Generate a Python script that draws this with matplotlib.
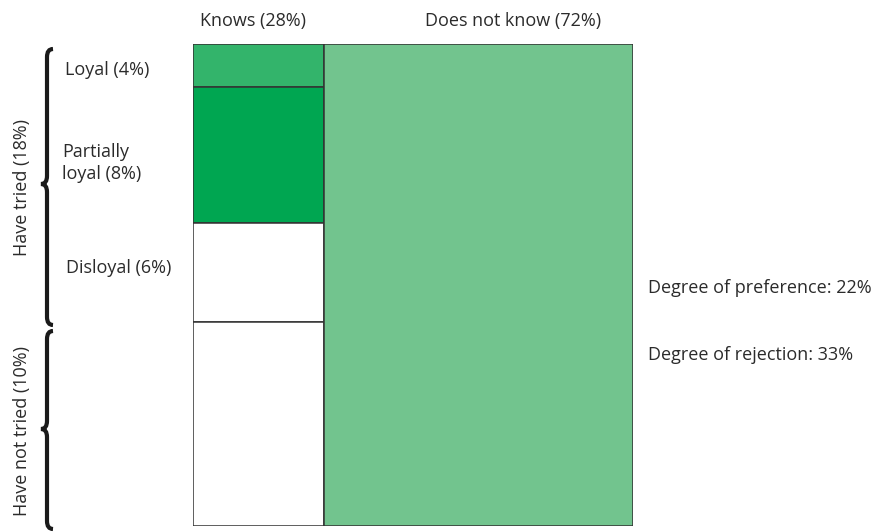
import matplotlib.pyplot as plt
from matplotlib.path import Path
from matplotlib.patches import PathPatch

plt.rcParams['font.family'] = ['Open Sans', 'DejaVu Sans']

# columns: who knows the brand
col_labels = ['Knows (28%)', 'Does not know (72%)']
col_widths = [29.8, 70.2]          # visual width share

# segments inside the "Knows" column (top to bottom)
seg_labels = ['Loyal (4%)', 'Partially\nloyal (8%)', 'Disloyal (6%)', '']
seg_heights = [8.9, 28.2, 20.5, 42.4]   # visual height share
seg_colors = ['#33b46b', '#00a651', 'white', 'white']

group_labels = ['Have tried (18%)', 'Have not tried (10%)']
side_notes = ['Degree of preference: 22%', 'Degree of rejection: 33%']

other_color = '#72c48e'
txt = '#2b2b2b'

fig = plt.figure(figsize=(8.82, 5.32), dpi=100)
ax = fig.add_axes([193/882, 1-526/532, 440/882, 482/532])

w0 = col_widths[0] / sum(col_widths)
bottom = 0
for h, c in zip(seg_heights, seg_colors):
    ax.bar(0, h, width=w0, bottom=bottom, align='edge', color=c,
           edgecolor='#333333', linewidth=1.1)
    bottom += h
ax.bar(w0, sum(seg_heights), width=1-w0, bottom=0, align='edge',
       color=other_color, edgecolor='#333333', linewidth=1.1)
ax.set_xlim(0, 1)
ax.set_ylim(sum(seg_heights), 0)
ax.axis('off')

# overlay in pixel units for labels and braces
ov = fig.add_axes([0, 0, 1, 1], zorder=-1)
ov.set_xlim(0, 882)
ov.set_ylim(532, 0)
ov.axis('off')

fs = 13
ov.text(253, 21, col_labels[0], ha='center', va='center', fontsize=fs, color=txt)
ov.text(513, 21, col_labels[1], ha='center', va='center', fontsize=fs, color=txt)
ov.text(65, 70, seg_labels[0], ha='left', va='center', fontsize=fs, color=txt)
ov.text(62, 163, seg_labels[1], ha='left', va='center', fontsize=fs, color=txt,
        linespacing=1.35)
ov.text(66, 268, seg_labels[2], ha='left', va='center', fontsize=fs, color=txt)
ov.text(648, 288, side_notes[0], ha='left', va='center', fontsize=fs, color=txt)
ov.text(648, 355, side_notes[1], ha='left', va='center', fontsize=fs, color=txt)
ov.text(22, 188, group_labels[0], ha='center', va='center', rotation=90,
        fontsize=fs, color=txt)
ov.text(22, 431, group_labels[1], ha='center', va='center', rotation=90,
        fontsize=fs, color=txt)


def brace(x, y0, y1, ym, d=6, r=8):
    verts = [(x + d, y0), (x, y0), (x, y0 + r),
             (x, ym - r),
             (x, ym), (x - d, ym),
             (x, ym), (x, ym + r),
             (x, y1 - r),
             (x, y1), (x + d, y1)]
    codes = [Path.MOVETO, Path.CURVE3, Path.CURVE3,
             Path.LINETO,
             Path.CURVE3, Path.CURVE3,
             Path.CURVE3, Path.CURVE3,
             Path.LINETO,
             Path.CURVE3, Path.CURVE3]
    ov.add_patch(PathPatch(Path(verts, codes), fill=False, lw=3,
                           edgecolor='#1a1a1a', capstyle='butt'))


brace(47, 49, 325, 184)
brace(47, 331, 529, 429)

fig.savefig('out.png', dpi=100)
